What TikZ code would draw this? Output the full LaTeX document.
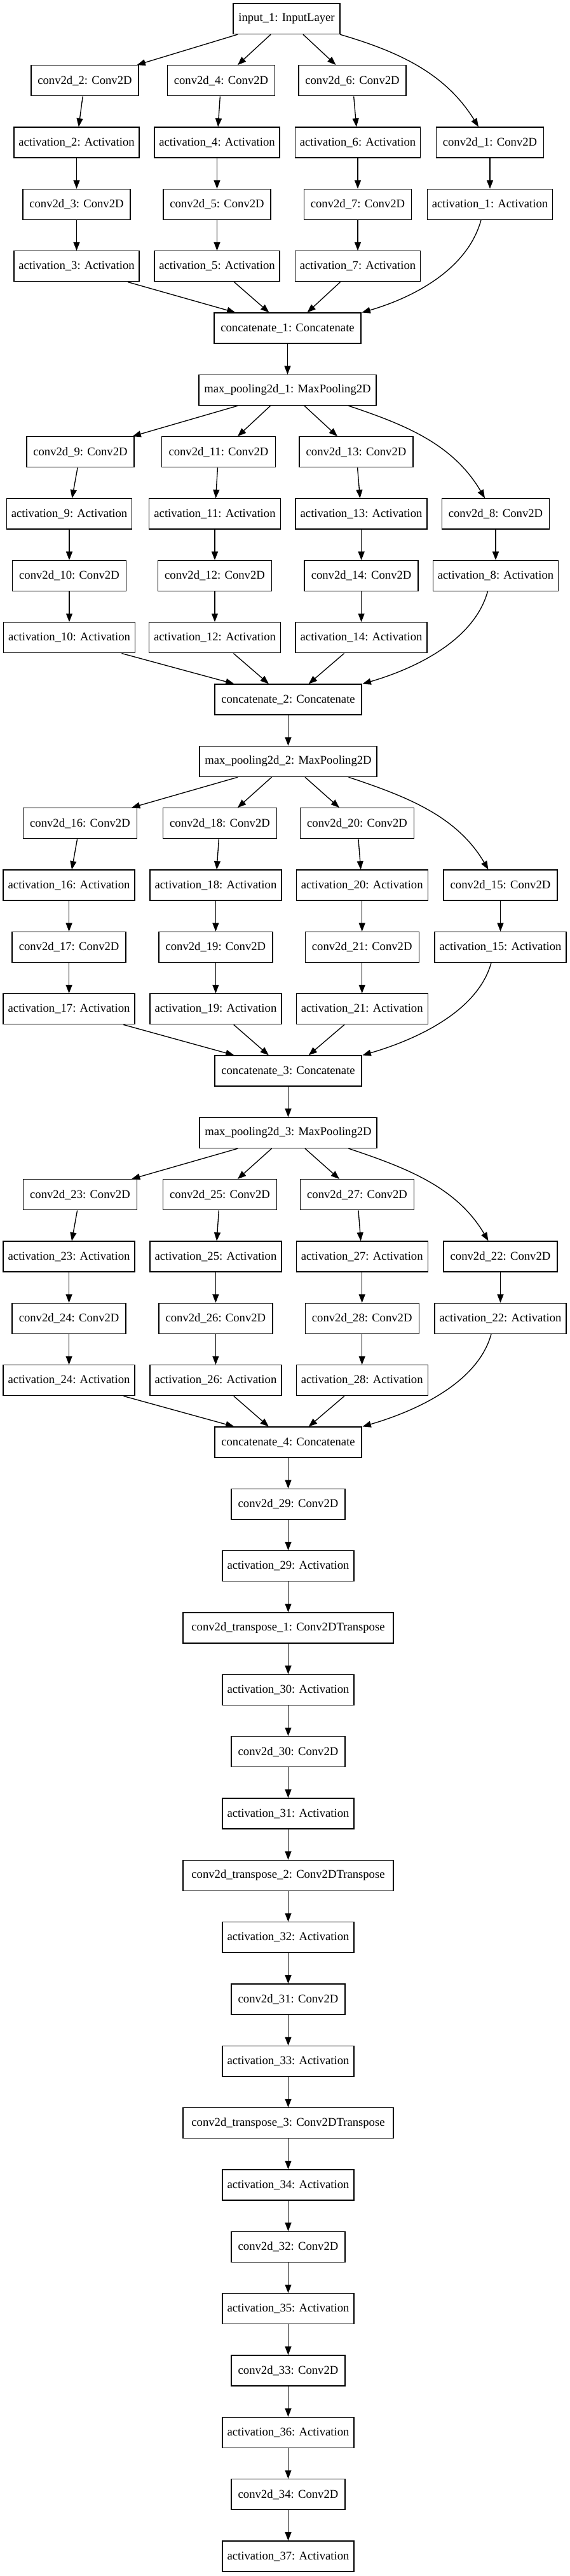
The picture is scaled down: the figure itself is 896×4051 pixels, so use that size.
\documentclass[tikz,border=0pt]{standalone}
\usepackage{fontspec}
\setmainfont{Liberation Serif}
\usetikzlibrary{arrows.meta,calc}
\newcommand{\ypos}[1]{29.5+97.33*#1}
\tikzset{
 box/.style={draw=black, line width=1pt, rectangle, minimum height=36pt, inner sep=0pt, font=\fontsize{14pt}{16pt}\selectfont, fill=white},
 wca/.style={box, minimum width=126.75pt},
 wcb/.style={box, minimum width=134.25pt},
 waa/.style={box, minimum width=147.75pt},
 wab/.style={box, minimum width=155.25pt},
 win/.style={box, minimum width=126pt},
 wcat/.style={box, minimum width=173.25pt},
 wmp/.style={box, minimum width=209.25pt},
 wtr/.style={box, minimum width=248.25pt},
 arr/.style={draw=black, line width=1pt, -{Triangle[length=10pt,width=7.5pt]}},
}
\begin{document}
\begin{tikzpicture}[x=0.75pt,y=-0.75pt]
\useasboundingbox (0,0) rectangle (896,4051);
% ---------- block 1 ----------
\node[win] (in) at (451,{\ypos{0}}) {input\_1: InputLayer};
\node[wca] (c2) at (133.5,{\ypos{1}}) {conv2d\_2: Conv2D};
\node[wca] (c4) at (348,{\ypos{1}}) {conv2d\_4: Conv2D};
\node[wca] (c6) at (554.5,{\ypos{1}}) {conv2d\_6: Conv2D};
\node[waa] (a2) at (120.5,{\ypos{2}}) {activation\_2: Activation};
\node[waa] (a4) at (341.5,{\ypos{2}}) {activation\_4: Activation};
\node[waa] (a6) at (563,{\ypos{2}}) {activation\_6: Activation};
\node[wca] (c1) at (771,{\ypos{2}}) {conv2d\_1: Conv2D};
\node[wca] (c3) at (120.5,{\ypos{3}}) {conv2d\_3: Conv2D};
\node[wca] (c5) at (341.5,{\ypos{3}}) {conv2d\_5: Conv2D};
\node[wca] (c7) at (563,{\ypos{3}}) {conv2d\_7: Conv2D};
\node[waa] (a1) at (771,{\ypos{3}}) {activation\_1: Activation};
\node[waa] (a3) at (120.5,{\ypos{4}}) {activation\_3: Activation};
\node[waa] (a5) at (341.5,{\ypos{4}}) {activation\_5: Activation};
\node[waa] (a7) at (563,{\ypos{4}}) {activation\_7: Activation};
\node[wcat] (cat1) at (452.5,{\ypos{5}}) {concatenate\_1: Concatenate};
\node[wmp] (mp1) at (452.5,{\ypos{6}}) {max\_pooling2d\_1: MaxPooling2D};
% ---------- block 2 ----------
\node[wca] (c9) at (126.5,{\ypos{7}}) {conv2d\_9: Conv2D};
\node[wcb] (c11) at (344,{\ypos{7}}) {conv2d\_11: Conv2D};
\node[wcb] (c13) at (560.5,{\ypos{7}}) {conv2d\_13: Conv2D};
\node[waa] (a9) at (109,{\ypos{8}}) {activation\_9: Activation};
\node[wab] (a11) at (338,{\ypos{8}}) {activation\_11: Activation};
\node[wab] (a13) at (568.6,{\ypos{8}}) {activation\_13: Activation};
\node[wca] (c8) at (780,{\ypos{8}}) {conv2d\_8: Conv2D};
\node[wcb] (c10) at (109,{\ypos{9}}) {conv2d\_10: Conv2D};
\node[wcb] (c12) at (338,{\ypos{9}}) {conv2d\_12: Conv2D};
\node[wcb] (c14) at (568.6,{\ypos{9}}) {conv2d\_14: Conv2D};
\node[waa] (a8) at (780,{\ypos{9}}) {activation\_8: Activation};
\node[wab] (a10) at (109,{\ypos{10}}) {activation\_10: Activation};
\node[wab] (a12) at (338,{\ypos{10}}) {activation\_12: Activation};
\node[wab] (a14) at (568.6,{\ypos{10}}) {activation\_14: Activation};
\node[wcat] (cat2) at (453.5,{\ypos{11}}) {concatenate\_2: Concatenate};
\node[wmp] (mp2) at (453.5,{\ypos{12}}) {max\_pooling2d\_2: MaxPooling2D};
% ---------- block 3 ----------
\node[wcb] (c16) at (126,{\ypos{13}}) {conv2d\_16: Conv2D};
\node[wcb] (c18) at (346,{\ypos{13}}) {conv2d\_18: Conv2D};
\node[wcb] (c20) at (562,{\ypos{13}}) {conv2d\_20: Conv2D};
\node[wab] (a16) at (108.6,{\ypos{14}}) {activation\_16: Activation};
\node[wab] (a18) at (339.4,{\ypos{14}}) {activation\_18: Activation};
\node[wab] (a20) at (569.7,{\ypos{14}}) {activation\_20: Activation};
\node[wcb] (c15) at (787.5,{\ypos{14}}) {conv2d\_15: Conv2D};
\node[wcb] (c17) at (108.6,{\ypos{15}}) {conv2d\_17: Conv2D};
\node[wcb] (c19) at (339.4,{\ypos{15}}) {conv2d\_19: Conv2D};
\node[wcb] (c21) at (569.7,{\ypos{15}}) {conv2d\_21: Conv2D};
\node[wab] (a15) at (787.5,{\ypos{15}}) {activation\_15: Activation};
\node[wab] (a17) at (108.6,{\ypos{16}}) {activation\_17: Activation};
\node[wab] (a19) at (339.4,{\ypos{16}}) {activation\_19: Activation};
\node[wab] (a21) at (569.7,{\ypos{16}}) {activation\_21: Activation};
\node[wcat] (cat3) at (453.5,{\ypos{17}}) {concatenate\_3: Concatenate};
\node[wmp] (mp3) at (453.5,{\ypos{18}}) {max\_pooling2d\_3: MaxPooling2D};
% ---------- block 4 ----------
\node[wcb] (c23) at (126,{\ypos{19}}) {conv2d\_23: Conv2D};
\node[wcb] (c25) at (346,{\ypos{19}}) {conv2d\_25: Conv2D};
\node[wcb] (c27) at (562,{\ypos{19}}) {conv2d\_27: Conv2D};
\node[wab] (a23) at (108.6,{\ypos{20}}) {activation\_23: Activation};
\node[wab] (a25) at (339.4,{\ypos{20}}) {activation\_25: Activation};
\node[wab] (a27) at (569.7,{\ypos{20}}) {activation\_27: Activation};
\node[wcb] (c22) at (787.5,{\ypos{20}}) {conv2d\_22: Conv2D};
\node[wcb] (c24) at (108.6,{\ypos{21}}) {conv2d\_24: Conv2D};
\node[wcb] (c26) at (339.4,{\ypos{21}}) {conv2d\_26: Conv2D};
\node[wcb] (c28) at (569.7,{\ypos{21}}) {conv2d\_28: Conv2D};
\node[wab] (a22) at (787.5,{\ypos{21}}) {activation\_22: Activation};
\node[wab] (a24) at (108.6,{\ypos{22}}) {activation\_24: Activation};
\node[wab] (a26) at (339.4,{\ypos{22}}) {activation\_26: Activation};
\node[wab] (a28) at (569.7,{\ypos{22}}) {activation\_28: Activation};
\node[wcat] (cat4) at (453.5,{\ypos{23}}) {concatenate\_4: Concatenate};
% ---------- chain ----------
\node[wcb] (c29) at (453.5,{\ypos{24}}) {conv2d\_29: Conv2D};
\node[wab] (a29) at (453.5,{\ypos{25}}) {activation\_29: Activation};
\node[wtr] (t1) at (453.5,{\ypos{26}}) {conv2d\_transpose\_1: Conv2DTranspose};
\node[wab] (a30) at (453.5,{\ypos{27}}) {activation\_30: Activation};
\node[wcb] (c30) at (453.5,{\ypos{28}}) {conv2d\_30: Conv2D};
\node[wab] (a31) at (453.5,{\ypos{29}}) {activation\_31: Activation};
\node[wtr] (t2) at (453.5,{\ypos{30}}) {conv2d\_transpose\_2: Conv2DTranspose};
\node[wab] (a32) at (453.5,{\ypos{31}}) {activation\_32: Activation};
\node[wcb] (c31) at (453.5,{\ypos{32}}) {conv2d\_31: Conv2D};
\node[wab] (a33) at (453.5,{\ypos{33}}) {activation\_33: Activation};
\node[wtr] (t3) at (453.5,{\ypos{34}}) {conv2d\_transpose\_3: Conv2DTranspose};
\node[wab] (a34) at (453.5,{\ypos{35}}) {activation\_34: Activation};
\node[wcb] (c32) at (453.5,{\ypos{36}}) {conv2d\_32: Conv2D};
\node[wab] (a35) at (453.5,{\ypos{37}}) {activation\_35: Activation};
\node[wcb] (c33) at (453.5,{\ypos{38}}) {conv2d\_33: Conv2D};
\node[wab] (a36) at (453.5,{\ypos{39}}) {activation\_36: Activation};
\node[wcb] (c34) at (453.5,{\ypos{40}}) {conv2d\_34: Conv2D};
\node[wab] (a37) at (453.5,{\ypos{41}}) {activation\_37: Activation};

% ---------- edges block 1 ----------
\draw[arr] ($(in.south)+(-77,0)$) -- ($(c2.north)+(82,0)$);
\draw[arr] ($(in.south)+(-25,0)$) -- ($(c4.north)+(26,0)$);
\draw[arr] ($(in.south)+(26,0)$) -- ($(c6.north)+(-26,0)$);
\draw[arr] ($(in.south)+(84,0)$) .. controls +(90,26.4) and +(-53,-85.7) .. ($(c1.north)+(-18,0)$);
\draw[arr] (c2) -- (a2);
\draw[arr] (a2) -- (c3);
\draw[arr] (c3) -- (a3);
\draw[arr] (c4) -- (a4);
\draw[arr] (a4) -- (c5);
\draw[arr] (c5) -- (a5);
\draw[arr] (c6) -- (a6);
\draw[arr] (a6) -- (c7);
\draw[arr] (c7) -- (a7);
\draw[arr] (c1) -- (a1);
\draw[arr] ($(a3.south)+(80.5,0)$) -- ($(cat1.north)+(-82,0)$);
\draw[arr] ($(a5.south)+(27,0)$) -- ($(cat1.north)+(-29,0)$);
\draw[arr] ($(a7.south)+(-27.5,0)$) -- ($(cat1.north)+(31,0)$);
\draw[arr] ($(a1.south)+(-14,0)$) .. controls +(-22,79) and +(79,-23) .. ($(cat1.north)+(117,0)$);
\draw[arr] (cat1) -- (mp1);
% ---------- edges block 2 ----------
\draw[arr] ($(mp1.south)+(-78.5,0)$) -- ($(c9.north)+(82,0)$);
\draw[arr] ($(mp1.south)+(-27,0)$) -- ($(c11.north)+(30,0)$);
\draw[arr] ($(mp1.south)+(26.5,0)$) -- ($(c13.north)+(-29.5,0)$);
\draw[arr] ($(mp1.south)+(96,0)$) .. controls +(90,30) and +(-50,-85) .. ($(c8.north)+(-17,0)$);
\draw[arr] (c9) -- (a9);
\draw[arr] (a9) -- (c10);
\draw[arr] (c10) -- (a10);
\draw[arr] (c11) -- (a11);
\draw[arr] (a11) -- (c12);
\draw[arr] (c12) -- (a12);
\draw[arr] (c13) -- (a13);
\draw[arr] (a13) -- (c14);
\draw[arr] (c14) -- (a14);
\draw[arr] (c8) -- (a8);
\draw[arr] ($(a10.south)+(82.4,0)$) -- ($(cat2.north)+(-85,0)$);
\draw[arr] ($(a12.south)+(29.4,0)$) -- ($(cat2.north)+(-30.5,0)$);
\draw[arr] ($(a14.south)+(-27,0)$) -- ($(cat2.north)+(32.2,0)$);
\draw[arr] ($(a8.south)+(-12.6,0)$) .. controls +(-22,79) and +(79,-23) .. ($(cat2.north)+(117,0)$);
\draw[arr] (cat2) -- (mp2);
% ---------- edges block 3 ----------
\draw[arr] ($(mp2.south)+(-79.2,0)$) -- ($(c16.north)+(81,0)$);
\draw[arr] ($(mp2.south)+(-26,0)$) -- ($(c18.north)+(28,0)$);
\draw[arr] ($(mp2.south)+(26.5,0)$) -- ($(c20.north)+(-28,0)$);
\draw[arr] ($(mp2.south)+(95,0)$) .. controls +(90,30) and +(-50,-85) .. ($(c15.north)+(-19,0)$);
\draw[arr] (c16) -- (a16);
\draw[arr] (a16) -- (c17);
\draw[arr] (c17) -- (a17);
\draw[arr] (c18) -- (a18);
\draw[arr] (a18) -- (c19);
\draw[arr] (c19) -- (a19);
\draw[arr] (c20) -- (a20);
\draw[arr] (a20) -- (c21);
\draw[arr] (c21) -- (a21);
\draw[arr] (c15) -- (a15);
\draw[arr] ($(a17.south)+(85.8,0)$) -- ($(cat3.north)+(-85,0)$);
\draw[arr] ($(a19.south)+(28.4,0)$) -- ($(cat3.north)+(-30.6,0)$);
\draw[arr] ($(a21.south)+(-27.8,0)$) -- ($(cat3.north)+(32.2,0)$);
\draw[arr] ($(a15.south)+(-14.5,0)$) .. controls +(-22,79) and +(79,-23) .. ($(cat3.north)+(117,0)$);
\draw[arr] (cat3) -- (mp3);
% ---------- edges block 4 ----------
\draw[arr] ($(mp3.south)+(-79.2,0)$) -- ($(c23.north)+(81,0)$);
\draw[arr] ($(mp3.south)+(-26,0)$) -- ($(c25.north)+(28,0)$);
\draw[arr] ($(mp3.south)+(26.5,0)$) -- ($(c27.north)+(-28,0)$);
\draw[arr] ($(mp3.south)+(95,0)$) .. controls +(90,30) and +(-50,-85) .. ($(c22.north)+(-19,0)$);
\draw[arr] (c23) -- (a23);
\draw[arr] (a23) -- (c24);
\draw[arr] (c24) -- (a24);
\draw[arr] (c25) -- (a25);
\draw[arr] (a25) -- (c26);
\draw[arr] (c26) -- (a26);
\draw[arr] (c27) -- (a27);
\draw[arr] (a27) -- (c28);
\draw[arr] (c28) -- (a28);
\draw[arr] (c22) -- (a22);
\draw[arr] ($(a24.south)+(85.8,0)$) -- ($(cat4.north)+(-85,0)$);
\draw[arr] ($(a26.south)+(28.4,0)$) -- ($(cat4.north)+(-30.6,0)$);
\draw[arr] ($(a28.south)+(-27.8,0)$) -- ($(cat4.north)+(32.2,0)$);
\draw[arr] ($(a22.south)+(-14.5,0)$) .. controls +(-22,79) and +(79,-23) .. ($(cat4.north)+(117,0)$);
% ---------- chain edges ----------
\draw[arr] (cat4) -- (c29);
\draw[arr] (c29) -- (a29);
\draw[arr] (a29) -- (t1);
\draw[arr] (t1) -- (a30);
\draw[arr] (a30) -- (c30);
\draw[arr] (c30) -- (a31);
\draw[arr] (a31) -- (t2);
\draw[arr] (t2) -- (a32);
\draw[arr] (a32) -- (c31);
\draw[arr] (c31) -- (a33);
\draw[arr] (a33) -- (t3);
\draw[arr] (t3) -- (a34);
\draw[arr] (a34) -- (c32);
\draw[arr] (c32) -- (a35);
\draw[arr] (a35) -- (c33);
\draw[arr] (c33) -- (a36);
\draw[arr] (a36) -- (c34);
\draw[arr] (c34) -- (a37);
\end{tikzpicture}
\end{document}
